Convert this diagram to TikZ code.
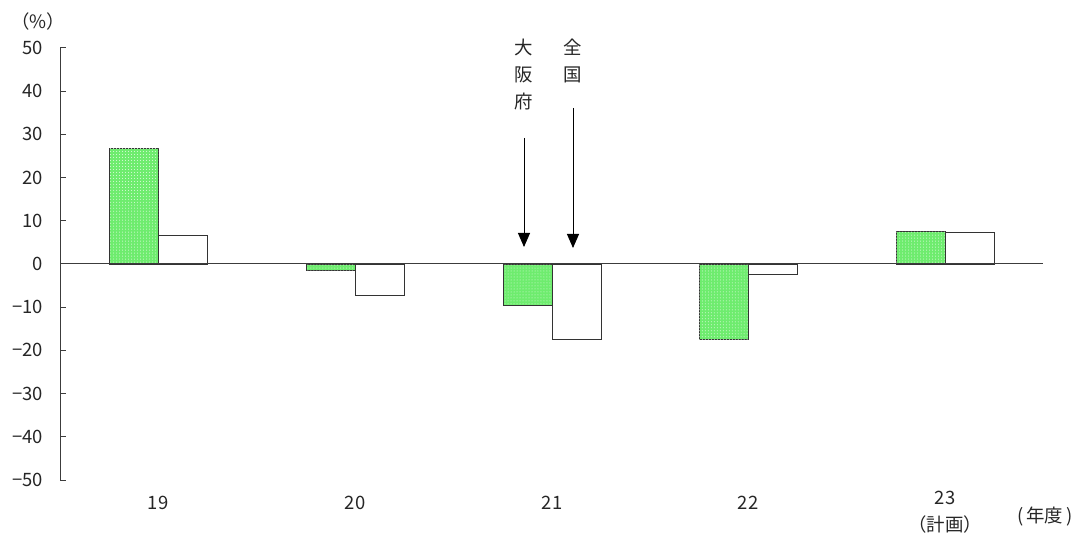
\documentclass[tikz,border=0pt]{standalone}
\usepackage{fontspec}
\setmainfont{Noto Sans CJK JP}
\usetikzlibrary{arrows.meta,patterns}
\definecolor{bargreen}{RGB}{110,236,110}
\definecolor{axisgray}{RGB}{60,60,60}
\tikzset{
  lbl/.style={font=\fontsize{18.5}{22}\selectfont, inner sep=0pt, text=black!85},
  ylbl/.style={lbl, anchor=east},
  greenbar/.style={draw=black!80, line width=0.9bp, fill=bargreen, postaction={pattern=dots, pattern color=white!80!bargreen}},
  whitebar/.style={draw=black!80, line width=0.9bp, fill=white},
  pointer/.style={line width=0.9bp, -{Triangle[width=12bp,length=14bp]}},
  axisline/.style={draw=axisgray, line width=1bp},
}
\begin{document}
\begin{tikzpicture}[x=1bp,y=-1bp]
\useasboundingbox (0,0) rectangle (1077,540);
% y tick labels
\node[lbl] (pct) at (38,21) {（\%）};
\foreach \v in {50,40,...,-50} {
  \pgfmathsetmacro{\yy}{264-4.32*\v}
  \node[ylbl] (t\v) at (43,\yy) {\ifnum\v<0 −\the\numexpr-\v\relax\else\v\fi};
  \draw[axisgray, line width=1bp] (60,\yy) -- (66,\yy);
}
% bars (data scope: origin at zero line, y up)
\begin{scope}[shift={(0,264)}, y=4.32bp]
  % 19
  \draw[greenbar] (109,0) rectangle (158,26.7);
  \draw[whitebar] (158,0) rectangle (207.5,6.7);
  % 20
  \draw[greenbar] (306,0) rectangle (355,-1.6);
  \draw[whitebar] (355,0) rectangle (404,-7.2);
  % 21
  \draw[greenbar] (503,0) rectangle (552,-9.6);
  \draw[whitebar] (552,0) rectangle (601,-17.4);
  % 22
  \draw[greenbar] (699,0) rectangle (748,-17.4);
  \draw[whitebar] (748,0) rectangle (797,-2.4);
  % 23
  \draw[greenbar] (896,0) rectangle (945,7.6);
  \draw[whitebar] (945,0) rectangle (994.5,7.2);
\end{scope}
% axes
\draw[axisline] (60,48) -- (60,480);
\draw[axisline] (60,264) -- (1043,264);
% category labels
\node[lbl] (c19) at (158,503) {19};
\node[lbl] (c20) at (355,503) {20};
\node[lbl] (c21) at (552,503) {21};
\node[lbl] (c22) at (748,503) {22};
\node[lbl] (c23) at (945,498) {23};
\node[lbl] (plan) at (945,524) {（計画）};
\node[lbl] (unit) at (1045,517) {(\,年度\,)};
% pointers
\node[lbl, align=center, font=\fontsize{18.5}{27}\selectfont, anchor=north] (osaka) at (524,39) {大\\阪\\府};
\node[lbl, align=center, font=\fontsize{18.5}{27}\selectfont, anchor=north] (zenkoku) at (573,39) {全\\国};
\coordinate (osakaS) at (524,138);
\coordinate (osakaE) at (524,247);
\coordinate (zenS) at (573,108);
\coordinate (zenE) at (573,248);
\draw[pointer] (osakaS) -- (osakaE);
\draw[pointer] (zenS) -- (zenE);
\end{tikzpicture}
\end{document}
